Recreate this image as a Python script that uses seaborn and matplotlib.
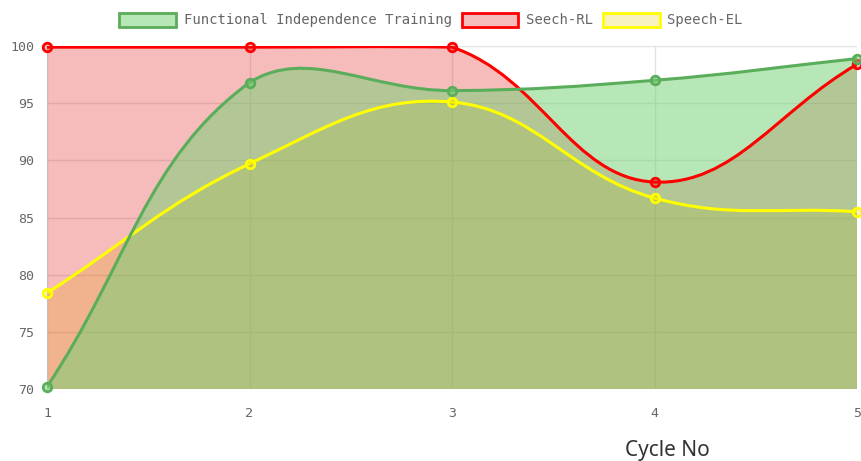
import numpy as np
import pandas as pd
import seaborn as sns
import matplotlib.pyplot as plt
from matplotlib.path import Path
from matplotlib.patches import PathPatch, Patch

cycles = [1, 2, 3, 4, 5]
fit_scores = [70.2, 96.8, 96.1, 97.0, 98.9]
seech_rl = [99.9, 99.9, 99.9, 88.1, 98.4]
speech_el = [78.4, 89.7, 95.1, 86.7, 85.5]

series_names = ["Functional Independence Training", "Seech-RL", "Speech-EL"]
line_colors = ["#5aad5a", "#ff0000", "#ffff00"]
fill_colors = [(113 / 255, 209 / 255, 113 / 255, 0.5),
               (225 / 255, 10 / 255, 10 / 255, 0.27),
               (225 / 255, 205 / 255, 0.0, 0.25)]

sns.set_style("white")
plt.rcParams["font.family"] = ["DejaVu Sans Mono"]

fig = plt.figure(figsize=(8.61, 4.61), dpi=100)
ax = fig.add_axes([47 / 861, 72 / 461, 810 / 861, 343 / 461])
ax.set_xlim(1, 5)
ax.set_ylim(70, 100)

# pixel scale, used for the chart.js style spline tension
sx = 810 / 4
sy = 343 / 30


def spline_path(xs, ys, tension=0.4, base=None):
    px = [(x - 1) * sx for x in xs]
    py = [(y - 70) * sy for y in ys]
    n = len(xs)
    cp_prev, cp_next = [], []
    for i in range(n):
        p0 = max(i - 1, 0)
        p2 = min(i + 1, n - 1)
        d01 = np.hypot(px[i] - px[p0], py[i] - py[p0])
        d12 = np.hypot(px[p2] - px[i], py[p2] - py[i])
        tot = d01 + d12
        s01 = d01 / tot if tot else 0
        s12 = d12 / tot if tot else 0
        fa, fb = tension * s01, tension * s12
        dx, dy = px[p2] - px[p0], py[p2] - py[p0]
        cp_prev.append((px[i] - fa * dx, min(max(py[i] - fa * dy, 0), 343)))
        cp_next.append((px[i] + fb * dx, min(max(py[i] + fb * dy, 0), 343)))
    to_data = lambda p: (p[0] / sx + 1, p[1] / sy + 70)
    verts = [(xs[0], ys[0])]
    codes = [Path.MOVETO]
    for i in range(n - 1):
        verts += [to_data(cp_next[i]), to_data(cp_prev[i + 1]), (xs[i + 1], ys[i + 1])]
        codes += [Path.CURVE4] * 3
    if base is not None:
        verts += [(xs[-1], base), (xs[0], base), (xs[0], ys[0])]
        codes += [Path.LINETO, Path.LINETO, Path.CLOSEPOLY]
    return Path(verts, codes)


all_series = [fit_scores, seech_rl, speech_el]
df = pd.DataFrame({"cycle": cycles * 3,
                   "score": fit_scores + seech_rl + speech_el,
                   "series": np.repeat(series_names, len(cycles))})

# fills first (first dataset on top), then lines and points above all fills
for k in [2, 1, 0]:
    vals = all_series[k]
    z = 2 + (2 - k) * 0.1
    ax.add_patch(PathPatch(spline_path(cycles, vals, base=70), facecolor=fill_colors[k],
                           edgecolor="none", zorder=z))
    ax.add_patch(PathPatch(spline_path(cycles, vals), facecolor="none",
                           edgecolor=line_colors[k], lw=2.2, zorder=z + 3))
    sub = df[df.series == series_names[k]]
    sns.scatterplot(data=sub, x="cycle", y="score", ax=ax, s=38, color=[fill_colors[k]],
                    edgecolor=line_colors[k], linewidth=2, zorder=z + 3.05, clip_on=False,
                    legend=False)

ax.set_xticks(cycles)
ax.set_yticks([70, 75, 80, 85, 90, 95, 100])
ax.grid(True, color="#e3e3e3", lw=1)
ax.set_axisbelow(True)
for s in ["top", "right"]:
    ax.spines[s].set_visible(False)
ax.spines["bottom"].set_visible(False)
ax.spines["left"].set_color("#c0c0c0")
ax.tick_params(axis="both", length=7, color="#dddddd", labelcolor="#666666", labelsize=9.5, pad=6)
ax.tick_params(axis="y", pad=2)
ax.set_xlabel("")
ax.set_ylabel("")

handles = [Patch(facecolor=fill_colors[k], edgecolor=line_colors[k], lw=2) for k in range(3)]
fig.legend(handles, series_names, loc="center", bbox_to_anchor=(431 / 861, 1 - 20 / 461), ncol=3,
           frameon=False, fontsize=10, handlelength=4.1, handleheight=1.2, handletextpad=0.55,
           columnspacing=0.7, labelcolor="#666666")

fig.text(667 / 861, 1 - 450 / 461, "Cycle No", ha="center", va="center", fontsize=15,
         family="Noto Sans", color="#333333")

fig.savefig("out.png", dpi=100)
